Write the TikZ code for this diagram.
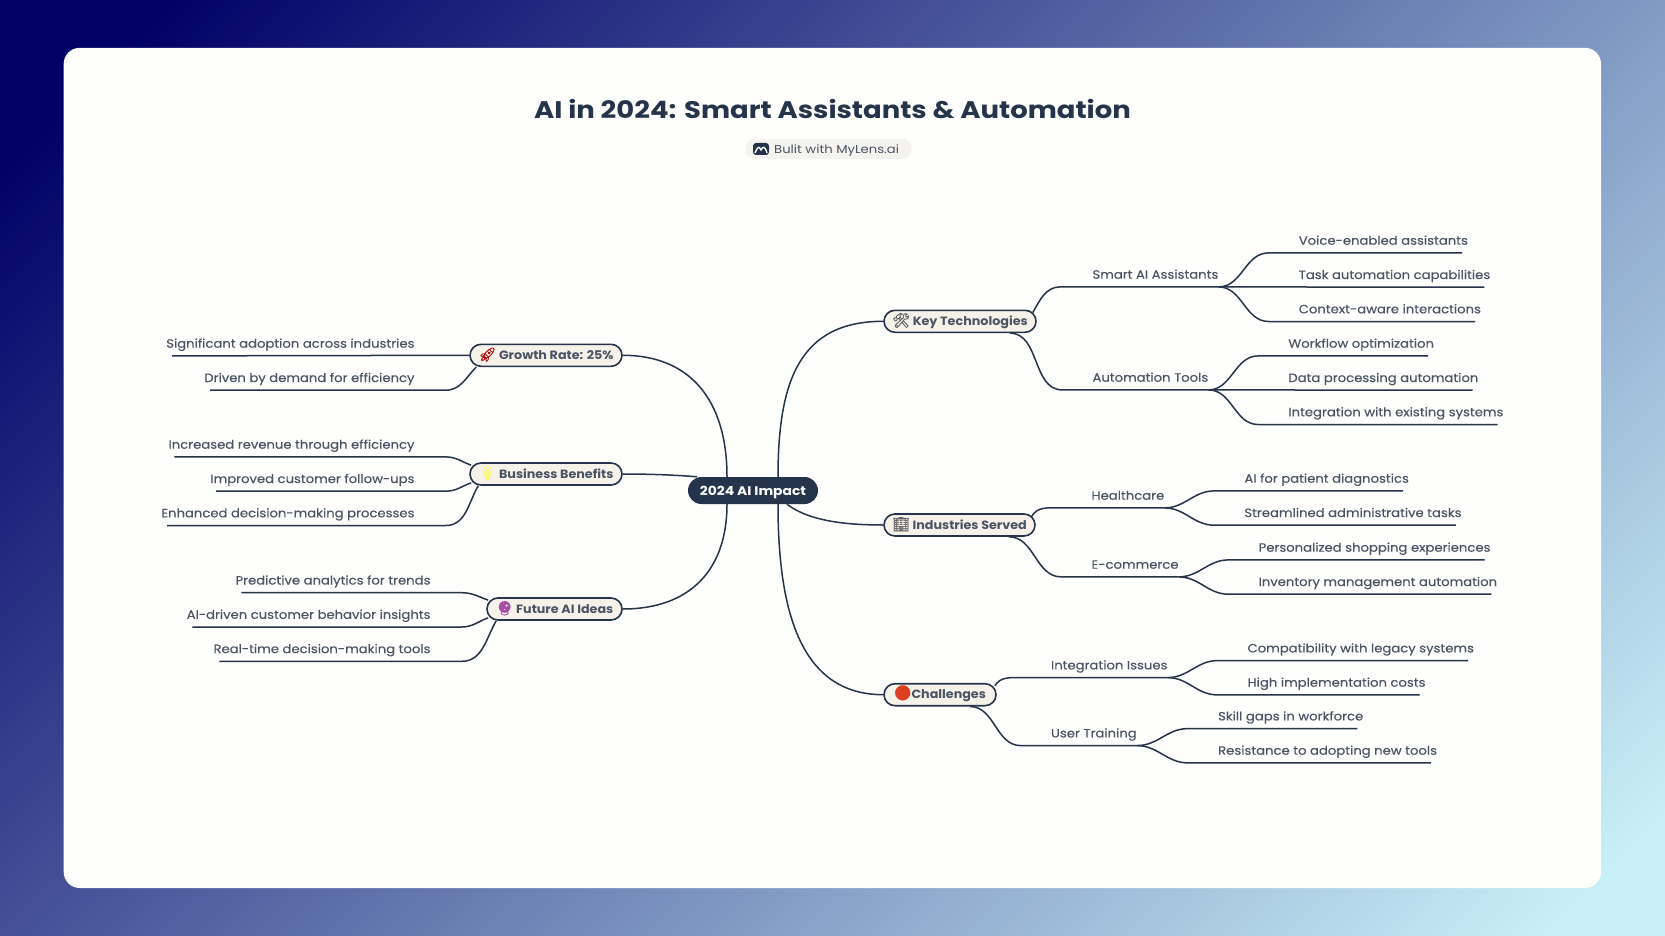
\documentclass[tikz,border=0pt]{standalone}
\usepackage{fontspec}
\setmainfont{Poppins}
\newfontfamily\emojifont{Noto Emoji}[FakeBold=0.6]
\newfontfamily\dotfont{DejaVu Sans}
\newfontfamily\twigfont{Poppins}[FakeStretch=1.1,FakeBold=0.25]
\newfontfamily\topicfont{Poppins}[FakeStretch=1.06]
\newfontfamily\rootfont{Poppins}[FakeStretch=1.11]
\newfontfamily\titlefont{Poppins}[FakeStretch=1.145]
\usepackage{xcolor}
\usetikzlibrary{positioning,calc}
\definecolor{ink}{HTML}{25344A}
\definecolor{leafInk}{HTML}{4A5464}
\definecolor{card}{HTML}{FEFEFC}
\definecolor{pillFill}{HTML}{F6F2EA}
\definecolor{badgeFill}{HTML}{F5F3EF}
\definecolor{skyStart}{HTML}{000066}
\definecolor{skyEnd}{HTML}{C9F0F8}
\definecolor{dotRed}{HTML}{DC4020}
\pgfdeclarehorizontalshading{skyshade}{100bp}{color(0bp)=(skyStart); color(28bp)=(skyStart); color(73bp)=(skyEnd); color(100bp)=(skyEnd)}
\tikzset{
  branch/.style={draw=ink, line width=1.5pt},
  root/.style={fill=ink, text=white, rounded corners=13.5pt, minimum width=130pt, minimum height=27pt, inner sep=0pt, text height=13pt, text depth=3pt, font=\fontsize{12.5}{14}\rootfont\bfseries},
  topic/.style={draw=ink, line width=1.6pt, fill=pillFill, rounded corners=11pt, minimum height=22pt, inner sep=0pt, text=leafInk, text height=11pt, text depth=3pt, font=\fontsize{12}{14}\topicfont\bfseries},
  twig/.style={minimum height=25.4pt, inner sep=0pt, text=leafInk, text height=12.4pt, text depth=3pt, font=\fontsize{12}{14}\twigfont},
}
\newcommand{\icon}[2]{{\fontsize{14}{14}\emojifont\textcolor{#1}{#2}}}
\begin{document}
\begin{tikzpicture}[x=1pt, y=-1pt, node distance=8.5pt]
  \useasboundingbox (0,0) rectangle (1665,936);
  \clip (0,0) rectangle (1665,936);
  \shade[shading=skyshade, shading angle=-45] (-87,-451.5) rectangle (1752,1387.5);
  \fill[card, rounded corners=16pt] (63.7,47.8) rectangle (1601,888);

  \node[text=ink, font=\fontsize{24}{28}\titlefont\bfseries] (title) at (832.5,109.5) {AI in 2024: Smart Assistants \& Automation};
  \node[fill=badgeFill, rounded corners=9pt, minimum width=166pt, minimum height=20pt, inner sep=0pt] (badge) at (828.5,149) {};
  \node[text=leafInk, anchor=west, inner sep=0pt, text height=13pt, text depth=3pt, font=\fontsize{11.5}{14}\titlefont] (badgeText) at (774,149) {Bulit with MyLens.ai};
  \fill[ink, rounded corners=3pt] (753,143) rectangle (769,155);
  \draw[white, line width=1.3pt] (755,153) .. controls (758,146) and (759,146) .. (761,150) .. controls (763,146) and (765,146) .. (767,153);

  \node[root] (impact) at (753,490.5) {2024 AI Impact};

  % right side topics
  \node[topic, minimum width=152pt, above right=169.2pt and 65pt of impact.east, anchor=west] (tech) {\icon{gray!70!black}{🛠} Key Technologies};
  \node[topic, minimum width=151pt, below right=34.5pt and 65pt of impact.east, anchor=west] (served) {\icon{gray!80!black}{🏢} Industries Served};
  \node[topic, minimum width=112pt, below right=204.2pt and 65pt of impact.east, anchor=west] (issues) {{\fontsize{20}{14}\dotfont\textcolor{dotRed}{●}}Challenges};
  % left side topics
  \node[topic, minimum width=152pt, above left=135.2pt and 65pt of impact.west, anchor=east] (growth) {\icon{red!70!black}{🚀} Growth Rate: 25\%};
  \node[topic, minimum width=152pt, above left=16.5pt and 65pt of impact.west, anchor=east] (gains) {\icon{yellow!60!white}{💡} Business Benefits};
  \node[topic, minimum width=135pt, below left=118.5pt and 65pt of impact.west, anchor=east] (future) {\icon{violet!70!white}{🔮} Future AI Ideas};

  \draw[branch] ([xshift=25pt]impact.north) .. controls (778,380) and (800,321.3) .. (tech.west);
  \draw[branch] ([xshift=34pt]impact.south) .. controls (810,522) and (850,525) .. (served.west);
  \draw[branch] ([xshift=25pt]impact.south) .. controls (778,610) and (800,694.7) .. (issues.west);
  \draw[branch] ([xshift=-26pt]impact.north) .. controls (727,400) and (690,355.3) .. (growth.east);
  \draw[branch] ([xshift=-56pt]impact.north) .. controls (675,475) and (650,474) .. (gains.east);
  \draw[branch] ([xshift=-26pt]impact.south) .. controls (727,570) and (690,609) .. (future.east);

  % second level, right
  \node[twig, above right=47.3pt and 55.5pt of tech.east, anchor=west] (smart) {Smart AI Assistants};
  \node[twig, below right=55.7pt and 55.5pt of tech.east, anchor=west] (autom) {Automation Tools};
  \node[twig, above right=30pt and 55.5pt of served.east, anchor=west] (health) {Healthcare};
  \node[twig, below right=39pt and 55.5pt of served.east, anchor=west] (shop) {E-commerce};
  \node[twig, above right=30pt and 54pt of issues.east, anchor=west] (integ) {Integration Issues};
  \node[twig, below right=38pt and 54pt of issues.east, anchor=west] (train) {User Training};

  \draw[branch] ([shift={(-4,3)}]tech.north east) to[out=60,in=180] ([xshift=-32pt]smart.south west) -- (smart.south east);
  \draw[branch] ([shift={(-27,0)}]tech.south east) to[out=0,in=180] ([xshift=-30pt]autom.south west) -- (autom.south east);
  \draw[branch] ([shift={(-4,3)}]served.north east) to[out=60,in=180] ([xshift=-32pt]health.south west) -- (health.south east);
  \draw[branch] ([shift={(-27,0)}]served.south east) to[out=0,in=180] ([xshift=-30pt]shop.south west) -- (shop.south east);
  \draw[branch] ([shift={(-2,3)}]issues.north east) to[out=60,in=180] ([xshift=-30pt]integ.south west) -- (integ.south east);
  \draw[branch] ([shift={(-27,0)}]issues.south east) to[out=0,in=180] ([xshift=-30pt]train.south west) -- (train.south east);

  % leaves, right
  \node[twig, above right=34pt and 80pt of smart.east, anchor=west] (voice) {Voice-enabled assistants};
  \node[twig, below=of voice.south west, anchor=north west] (task) {Task automation capabilities};
  \node[twig, below=of task.south west, anchor=north west] (context) {Context-aware interactions};
  \node[twig, above right=34pt and 79.7pt of autom.east, anchor=west] (workflow) {Workflow optimization};
  \node[twig, below=of workflow.south west, anchor=north west] (data) {Data processing automation};
  \node[twig, below=of data.south west, anchor=north west] (legacy) {Integration with existing systems};
  \node[twig, above right=17pt and 79.7pt of health.east, anchor=west] (diag) {AI for patient diagnostics};
  \node[twig, below=of diag.south west, anchor=north west] (admin) {Streamlined administrative tasks};
  \node[twig, above right=17pt and 79.7pt of shop.east, anchor=west] (person) {Personalized shopping experiences};
  \node[twig, below=of person.south west, anchor=north west] (stock) {Inventory management automation};
  \node[twig, above right=17pt and 79.7pt of integ.east, anchor=west] (compat) {Compatibility with legacy systems};
  \node[twig, below=of compat.south west, anchor=north west] (costs) {High implementation costs};
  \node[twig, above right=17pt and 81pt of train.east, anchor=west] (skill) {Skill gaps in workforce};
  \node[twig, below=of skill.south west, anchor=north west] (resist) {Resistance to adopting new tools};

  \draw[branch] (smart.south east) to[out=0,in=180] ([xshift=-30pt]voice.south west) -- ([xshift=-6pt]voice.south east);
  \draw[branch] (smart.south east) -- ([xshift=-6pt]task.south east);
  \draw[branch] (smart.south east) to[out=0,in=180] ([xshift=-30pt]context.south west) -- ([xshift=-6pt]context.south east);
  \draw[branch] (autom.south east) to[out=0,in=180] ([xshift=-30pt]workflow.south west) -- ([xshift=-6pt]workflow.south east);
  \draw[branch] (autom.south east) -- ([xshift=-6pt]data.south east);
  \draw[branch] (autom.south east) to[out=0,in=180] ([xshift=-30pt]legacy.south west) -- ([xshift=-6pt]legacy.south east);
  \draw[branch] (health.south east) to[out=0,in=180] ([xshift=-30pt]diag.south west) -- ([xshift=-6pt]diag.south east);
  \draw[branch] (health.south east) to[out=0,in=180] ([xshift=-30pt]admin.south west) -- ([xshift=-6pt]admin.south east);
  \draw[branch] (shop.south east) to[out=0,in=180] ([xshift=-30pt]person.south west) -- ([xshift=-6pt]person.south east);
  \draw[branch] (shop.south east) to[out=0,in=180] ([xshift=-30pt]stock.south west) -- ([xshift=-6pt]stock.south east);
  \draw[branch] (integ.south east) to[out=0,in=180] ([xshift=-30pt]compat.south west) -- ([xshift=-6pt]compat.south east);
  \draw[branch] (integ.south east) to[out=0,in=180] ([xshift=-30pt]costs.south west) -- ([xshift=-6pt]costs.south east);
  \draw[branch] (train.south east) to[out=0,in=180] ([xshift=-30pt]skill.south west) -- ([xshift=-6pt]skill.south east);
  \draw[branch] (train.south east) to[out=0,in=180] ([xshift=-30pt]resist.south west) -- ([xshift=-6pt]resist.south east);

  % leaves, left
  \node[twig, above left=12.3pt and 54.5pt of growth.west, anchor=east] (adopt) {Significant adoption across industries};
  \node[twig, below=of adopt.south east, anchor=north east] (demand) {Driven by demand for efficiency};
  \node[twig, above left=30pt and 54.5pt of gains.west, anchor=east] (revenue) {Increased revenue through efficiency};
  \node[twig, below=of revenue.south east, anchor=north east] (follow) {Improved customer follow-ups};
  \node[twig, below=of follow.south east, anchor=north east] (decide) {Enhanced decision-making processes};
  \node[twig, above left=29.2pt and 55.5pt of future.west, anchor=east] (predict) {Predictive analytics for trends};
  \node[twig, below=of predict.south east, anchor=north east] (behave) {AI-driven customer behavior insights};
  \node[twig, below=of behave.south east, anchor=north east] (realtime) {Real-time decision-making tools};

  \draw[branch] (growth.west) -- ([xshift=6pt]adopt.south west);
  \draw[branch] ([shift={(7,0)}]growth.south west) to[out=225,in=0] ([xshift=31pt]demand.south east) -- ([xshift=6pt]demand.south west);
  \draw[branch] ([shift={(2,3)}]gains.north west) to[out=160,in=0] ([xshift=31pt]revenue.south east) -- ([xshift=6pt]revenue.south west);
  \draw[branch] ([shift={(2,-3)}]gains.south west) to[out=200,in=0] ([xshift=31pt]follow.south east) -- ([xshift=6pt]follow.south west);
  \draw[branch] ([shift={(9,0)}]gains.south west) to[out=240,in=0] ([xshift=31pt]decide.south east) -- ([xshift=6pt]decide.south west);
  \draw[branch] ([shift={(2,3)}]future.north west) to[out=160,in=0] ([xshift=31pt]predict.south east) -- ([xshift=6pt]predict.south west);
  \draw[branch] ([shift={(2,-3)}]future.south west) to[out=200,in=0] ([xshift=31pt]behave.south east) -- ([xshift=6pt]behave.south west);
  \draw[branch] ([shift={(10,0)}]future.south west) to[out=240,in=0] ([xshift=31pt]realtime.south east) -- ([xshift=6pt]realtime.south west);
\end{tikzpicture}
\end{document}
